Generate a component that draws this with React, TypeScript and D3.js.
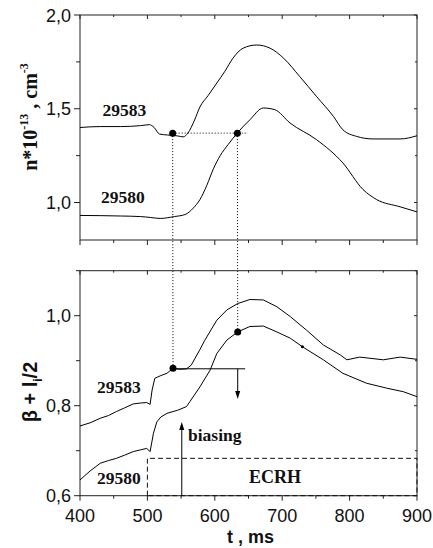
import React from "react";
import * as d3 from "d3";

// ---- data ----
const topShot29583: [number, number][] = [
  [400, 1.4], [430, 1.405], [460, 1.405], [490, 1.41], [503, 1.415], [510, 1.4], [518, 1.365],
  [530, 1.36], [545, 1.355], [553, 1.35], [560, 1.37], [570, 1.44], [578, 1.51], [590, 1.57],
  [603, 1.637], [615, 1.7], [627, 1.77], [642, 1.823], [662, 1.84], [682, 1.823], [702, 1.77],
  [726, 1.672], [751, 1.565], [776, 1.459], [790, 1.388], [810, 1.353], [835, 1.339],
  [875, 1.339], [900, 1.356],
];
const topShot29580: [number, number][] = [
  [400, 0.931], [430, 0.93], [460, 0.928], [490, 0.925], [505, 0.92], [519, 0.915], [540, 0.925],
  [556, 0.936], [568, 0.97], [578, 1.016], [588, 1.09], [598, 1.18], [608, 1.25], [620, 1.31],
  [633.5, 1.371], [652, 1.441], [672, 1.504], [689, 1.495], [711.6, 1.424], [751, 1.335],
  [790, 1.211], [820, 1.069], [840, 1.016], [875, 0.977], [900, 0.95],
];
const botShot29583: [number, number][] = [
  [400, 0.755], [415, 0.762], [430, 0.772], [442, 0.778], [454, 0.787], [466, 0.795], [479, 0.804],
  [490, 0.806], [499, 0.807], [504, 0.803], [507, 0.835], [511, 0.861], [520, 0.867], [529, 0.872],
  [538, 0.883], [548, 0.881], [558, 0.882], [565, 0.89], [578, 0.925], [585, 0.945], [603, 0.99],
  [618, 1.013], [634, 1.027], [652, 1.036], [672, 1.035], [692, 1.02], [712, 0.998], [736, 0.968],
  [761, 0.935], [786, 0.913], [796, 0.902], [815, 0.908], [850, 0.902], [875, 0.908], [900, 0.903],
];
const botShot29580: [number, number][] = [
  [400, 0.635], [415, 0.655], [430, 0.672], [442, 0.678], [454, 0.683], [466, 0.69], [479, 0.698],
  [490, 0.702], [499, 0.705], [504, 0.698], [509, 0.739], [514, 0.764], [520, 0.775], [529, 0.783],
  [545, 0.79], [558, 0.798], [563, 0.809], [578, 0.842], [593, 0.879], [603, 0.916], [618, 0.946],
  [634, 0.964], [652, 0.976], [672, 0.977], [692, 0.964], [712, 0.95], [730, 0.931], [761, 0.902],
  [790, 0.872], [825, 0.85], [855, 0.839], [880, 0.831], [900, 0.82],
];
const xMajorTicks = [400, 500, 600, 700, 800, 900];
const xMinorTicks = [450, 550, 650, 750, 850];
const topYMajor = [1.0, 1.5, 2.0];
const topYMinor = [1.25, 1.75];
const botYMajor = [0.6, 0.8, 1.0];
const botYMinor = [0.7, 0.9, 1.1];
// markers
const topDots: [number, number][] = [[537.5, 1.37], [633.5, 1.37]];
const botDots: [number, number][] = [[538, 0.883], [634, 0.964]];
const smallDot: [number, number] = [730, 0.931];
const ecrh = { t0: 500, t1: 900, level: 0.683 };
const biasing = { t: 551, top: 0.764 };
const levelLine = { t0: 540, t1: 645, v: 0.882, arrowT: 634, arrowEnd: 0.815 };

const W = 433, H = 548;
const X0 = 80, X1 = 417;
const TOP = { y0: 240, y1: 15, d: [0.8, 2.0] };
const BOT = { y0: 495.7, y1: 270.7, d: [0.6, 1.1] };

const fmt = (v: number) => v.toFixed(1).replace(".", ",");
const sans = "'Liberation Sans', Arial, sans-serif";
const serif = "'Liberation Serif', 'Times New Roman', serif";
const AX = "#222";

export default function App() {
  const x = d3.scaleLinear().domain([400, 900]).range([X0, X1]);
  const yT = d3.scaleLinear().domain(TOP.d).range([TOP.y0, TOP.y1]);
  const yB = d3.scaleLinear().domain(BOT.d).range([BOT.y0, BOT.y1]);

  const lineT = d3.line<[number, number]>().x(d => x(d[0])).y(d => yT(d[1])).curve(d3.curveMonotoneX);
  const lineB = d3.line<[number, number]>().x(d => x(d[0])).y(d => yB(d[1]));

  const frame = (p: { y0: number; y1: number }, y: d3.ScaleLinear<number, number>, maj: number[], min: number[], labels: boolean, key: string) => (
    <g key={key}>
      <rect x={X0} y={p.y1} width={X1 - X0} height={p.y0 - p.y1} fill="none" stroke={AX} strokeWidth={1} />
      {xMajorTicks.map(t => (
        <g key={"xm" + t}>
          <line x1={x(t)} x2={x(t)} y1={p.y0} y2={p.y0 + 5} stroke={AX} />
          <line x1={x(t)} x2={x(t)} y1={p.y1} y2={p.y1 + 4} stroke={AX} />
          {labels && (
            <text x={x(t)} y={p.y0 + 26} textAnchor="middle" fontFamily={sans} fontSize={18} fill="#111">{t}</text>
          )}
        </g>
      ))}
      {xMinorTicks.map(t => (
        <g key={"xn" + t}>
          <line x1={x(t)} x2={x(t)} y1={p.y0} y2={p.y0 + 3} stroke={AX} />
          <line x1={x(t)} x2={x(t)} y1={p.y1} y2={p.y1 + 2} stroke={AX} />
        </g>
      ))}
      {maj.map(v => (
        <g key={"ym" + v}>
          <line x1={X0 - 6} x2={X0} y1={y(v)} y2={y(v)} stroke={AX} />
          <line x1={X1 - 3} x2={X1} y1={y(v)} y2={y(v)} stroke={AX} />
          <text x={X0 - 9} y={y(v) + 6.5} textAnchor="end" fontFamily={sans} fontSize={18} fill="#111">{fmt(v)}</text>
        </g>
      ))}
      {min.map(v => (
        <g key={"yn" + v}>
          <line x1={X0 - 4} x2={X0} y1={y(v)} y2={y(v)} stroke={AX} />
          <line x1={X1 - 2} x2={X1} y1={y(v)} y2={y(v)} stroke={AX} />
        </g>
      ))}
    </g>
  );

  const arrowUp = (cx: number, tipY: number) => `M${cx},${tipY} L${cx - 2.5},${tipY + 8} L${cx + 2.5},${tipY + 8} Z`;
  const arrowDown = (cx: number, tipY: number) => `M${cx},${tipY} L${cx - 2.5},${tipY - 8} L${cx + 2.5},${tipY - 8} Z`;

  return (
    <svg width={W} height={H} style={{ position: "absolute", left: 0, top: 0, background: "#fff" }}>
      {frame(TOP, yT, topYMajor, topYMinor, false, "top")}
      {frame(BOT, yB, botYMajor, botYMinor, true, "bot")}

      {/* ECRH dashed box */}
      <path
        d={`M${x(ecrh.t0)},${yB(0.6)} L${x(ecrh.t0)},${yB(ecrh.level)} L${x(ecrh.t1)},${yB(ecrh.level)} L${x(ecrh.t1)},${yB(0.6)} Z`}
        fill="none" stroke="#111" strokeWidth={1} strokeDasharray="5,3"
      />

      {/* curves */}
      <path d={lineT(topShot29583) || ""} fill="none" stroke="#000" strokeWidth={1} />
      <path d={lineT(topShot29580) || ""} fill="none" stroke="#000" strokeWidth={1} />
      <path d={lineB(botShot29583) || ""} fill="none" stroke="#000" strokeWidth={1} />
      <path d={lineB(botShot29580) || ""} fill="none" stroke="#000" strokeWidth={1} />

      {/* dotted guides */}
      <line x1={x(topDots[0][0])} x2={x(649)} y1={yT(topDots[0][1])} y2={yT(topDots[0][1])} stroke="#000" strokeDasharray="1,2" />
      <line x1={x(topDots[0][0])} x2={x(botDots[0][0])} y1={yT(topDots[0][1])} y2={yB(botDots[0][1])} stroke="#000" strokeDasharray="1,2" />
      <line x1={x(topDots[1][0])} x2={x(botDots[1][0])} y1={yT(topDots[1][1])} y2={yB(botDots[1][1])} stroke="#000" strokeDasharray="1,2" />

      {/* level line and arrows */}
      <line x1={x(levelLine.t0)} x2={x(levelLine.t1)} y1={yB(levelLine.v)} y2={yB(levelLine.v)} stroke="#000" />
      <line x1={x(levelLine.arrowT)} x2={x(levelLine.arrowT)} y1={yB(levelLine.v)} y2={yB(levelLine.arrowEnd) - 6} stroke="#000" />
      <path d={arrowDown(x(levelLine.arrowT), yB(levelLine.arrowEnd))} fill="#000" />
      <line x1={x(biasing.t)} x2={x(biasing.t)} y1={yB(0.6)} y2={yB(biasing.top) + 6} stroke="#000" />
      <path d={arrowUp(x(biasing.t), yB(biasing.top))} fill="#000" />

      {/* dots */}
      {topDots.map((d, i) => <circle key={"td" + i} cx={x(d[0])} cy={yT(d[1])} r={3.5} fill="#000" />)}
      {botDots.map((d, i) => <circle key={"bd" + i} cx={x(d[0])} cy={yB(d[1])} r={3.5} fill="#000" />)}
      <circle cx={x(smallDot[0])} cy={yB(smallDot[1])} r={1.6} fill="#000" />

      {/* series labels */}
      <g fontFamily={serif} fontWeight="bold" fontSize={17.5} fill="#111">
        <text x={102.5} y={115.5}>29583</text>
        <text x={101} y={203}>29580</text>
        <text x={97} y={393}>29583</text>
        <text x={97} y={483.5}>29580</text>
        <text x={188} y={441}>biasing</text>
        <text x={275} y={483} textAnchor="middle" fontSize={18}>ECRH</text>
      </g>

      {/* axis titles */}
      <text x={(X0 + X1) / 2 + 2} y={543} textAnchor="middle" fontFamily={sans} fontWeight="bold" fontSize={18} fill="#111">t , ms</text>
      <text transform="translate(37,117) rotate(-90)" textAnchor="middle" fontFamily={serif} fontWeight="bold" fontSize={20} fill="#111">
        n*10<tspan dy={-9} fontSize={12}>-13</tspan><tspan dy={9}> , cm</tspan><tspan dy={-9} fontSize={12}>-3</tspan>
      </text>
      <text transform="translate(37,392) rotate(-90)" textAnchor="middle" fontFamily={sans} fontWeight="bold" fontSize={20} fill="#111">
        β + l<tspan dy={5} fontSize={12}>i</tspan><tspan dy={-5}>/2</tspan>
      </text>
    </svg>
  );
}
